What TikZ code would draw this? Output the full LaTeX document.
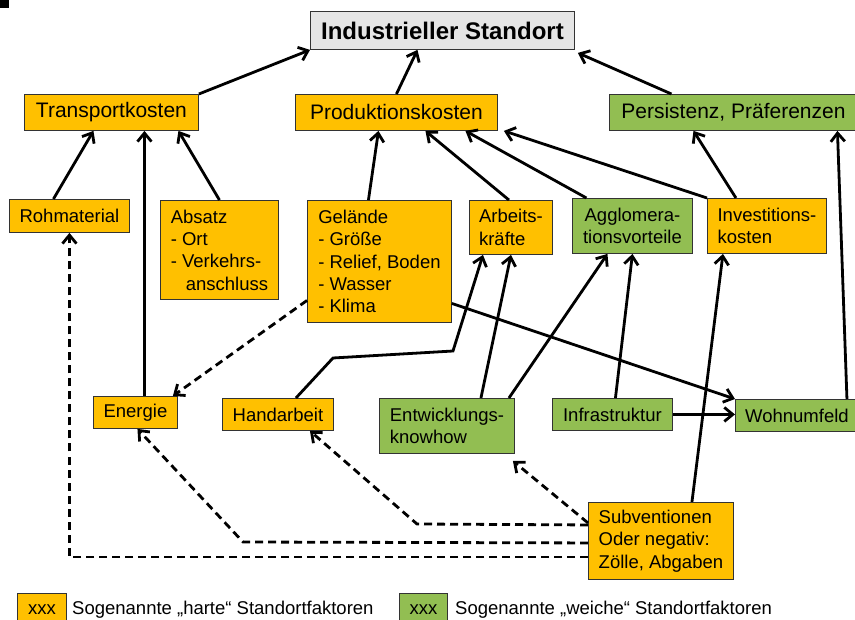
\documentclass[tikz,border=0pt]{standalone}
\usepackage{fontspec}
\setmainfont{Liberation Sans}
\usetikzlibrary{arrows.meta}
\definecolor{hartgelb}{RGB}{255,192,0}
\definecolor{weichgruen}{RGB}{146,190,82}

\begin{document}
\begin{tikzpicture}[x=1pt, y=-1pt,
	every node/.style={font=\fontsize{18.5}{22.3}\selectfont, align=left, inner sep=2pt, anchor=north west},
	box/.style={draw=black!80, line width=0.9pt},
	hart/.style={box, fill=hartgelb},
	weich/.style={box, fill=weichgruen},
	ebene/.style={minimum height=36pt, font=\fontsize{21}{25}\selectfont},
	pfeil/.style={line width=2.8pt, ->},
	indirekt/.style={pfeil, dash pattern=on 8pt off 5pt},
	>={Straight Barb[length=8.5pt,width=14pt]}]
	\useasboundingbox (0,0) rectangle (855,620);
	\fill (0,0) rectangle (9,8);
	% Ziel
	\node[box, fill=gray!20, minimum width=264pt, minimum height=38pt, align=center, font=\bfseries\fontsize{24}{28}\selectfont] (standort) at (310,11) {Industrieller Standort};
	% Kostengruppen
	\node[hart, ebene, minimum width=174pt] (transport) at (24,94) {Transportkosten};
	\node[hart, ebene, minimum width=202pt] (produktion) at (295,94) {Produktionskosten};
	\node[weich, ebene, minimum width=248pt] (persistenz) at (609,94) {Persistenz, Präferenzen};
	% Faktoren
	\node[hart, minimum width=120pt, minimum height=33pt] (roh) at (9,199) {Rohmaterial};
	\node[hart, minimum width=118pt, minimum height=99pt] (absatz) at (160,200) {Absatz\\- Ort\\- Verkehrs-\\\hspace*{15pt}anschluss};
	\node[hart, minimum width=144pt, minimum height=122pt] (gelaende) at (307,200) {Gelände\\- Größe\\- Relief, Boden\\- Wasser\\- Klima};
	\node[hart, minimum width=83pt, minimum height=54pt] (arbeit) at (469,200) {Arbeits-\\kräfte};
	\node[weich, minimum width=120pt, minimum height=55pt, align=center] (agglo) at (572,198) {Agglomera-\\tionsvorteile};
	\node[hart, minimum width=119pt, minimum height=55pt] (invest) at (707,198) {Investitions-\\kosten};
	\node[hart, minimum width=84pt, minimum height=32pt] (energie) at (93,396) {Energie};
	\node[hart, minimum width=111pt, minimum height=32pt] (hand) at (222,398) {Handarbeit};
	\node[weich, minimum width=135pt, minimum height=55pt] (entw) at (379,398) {Entwicklungs-\\knowhow};
	\node[weich, minimum width=120pt, minimum height=32pt] (infra) at (552,398) {Infrastruktur};
	\node[weich, minimum width=123pt, minimum height=32pt] (wohn) at (735,399) {Wohnumfeld};
	\node[hart, minimum width=145pt, minimum height=77pt] (subv) at (588,502) {Subventionen\\Oder negativ:\\Zölle, Abgaben};
	% Legende
	\node[hart, minimum width=49pt, minimum height=33pt] (lghart) at (17,593) {xxx};
	\node[anchor=west] (lghtext) at (70,610) {Sogenannte „harte“ Standortfaktoren};
	\node[weich, minimum width=48pt, minimum height=33pt] (lgweich) at (399,593) {xxx};
	\node[anchor=west] (lgwtext) at (453,610) {Sogenannte „weiche“ Standortfaktoren};
	% direkte Wirkungen
	\draw[pfeil] (transport.north east) -- (standort.south west);
	\draw[pfeil] (produktion.north) -- ([xshift=-25pt]standort.south);
	\draw[pfeil] ([xshift=-62pt]persistenz.north) -- ([xshift=3pt,yshift=-3pt]standort.south east);
	\draw[pfeil] ([xshift=-16pt]roh.north) -- ([xshift=-18pt]transport.south);
	\draw[pfeil] ([xshift=9pt]energie.north) -- ([xshift=33pt]transport.south);
	\draw[pfeil] (absatz.north) -- ([xshift=67pt]transport.south);
	\draw[pfeil] ([xshift=-11pt]gelaende.north) -- ([xshift=-18pt]produktion.south);
	\draw[pfeil] ([xshift=-2pt]arbeit.north) -- ([xshift=29pt]produktion.south);
	\draw[pfeil] ([xshift=-46pt]agglo.north) -- ([xshift=69pt]produktion.south);
	\draw[pfeil] (invest.north west) -- ([xshift=6pt]produktion.south east);
	\draw[pfeil] ([xshift=-31pt]invest.north) -- ([xshift=-40pt]persistenz.south);
	\draw[pfeil] ([xshift=50pt]wohn.north) -- ([xshift=104pt]persistenz.south);
	\draw[pfeil] ([xshift=18pt]hand.north) -- (333,358) -- (453,351) -- ([xshift=-28pt]arbeit.south);
	\draw[pfeil] ([xshift=34pt]entw.north) -- (arbeit.south);
	\draw[pfeil] ([xshift=62pt]entw.north) -- ([xshift=-25pt]agglo.south);
	\draw[pfeil] ([xshift=3pt]infra.north) -- (agglo.south);
	\draw[pfeil] (infra.east) -- (infra.east -| wohn.west);
	\draw[pfeil] ([yshift=-42pt]gelaende.east) -- (wohn.north west);
	\draw[pfeil] ([xshift=31pt]subv.north) -- ([xshift=-44pt]invest.south);
	% indirekte Wirkungen
	\draw[indirekt] ([yshift=-39pt]gelaende.west) -- ([xshift=-5pt]energie.north east);
	\draw[indirekt] ([yshift=-16pt]subv.west) -| (roh.south);
	\draw[indirekt] ([yshift=-2pt]subv.west) -- (243,542) -- ([xshift=2pt]energie.south);
	\draw[indirekt] ([yshift=16pt]subv.west) -- (417,524) -- ([xshift=32pt]hand.south);
	\draw[indirekt] ([yshift=18pt]subv.west) -- ([xshift=-2pt,yshift=-7pt]entw.south east);
\end{tikzpicture}
\end{document}
